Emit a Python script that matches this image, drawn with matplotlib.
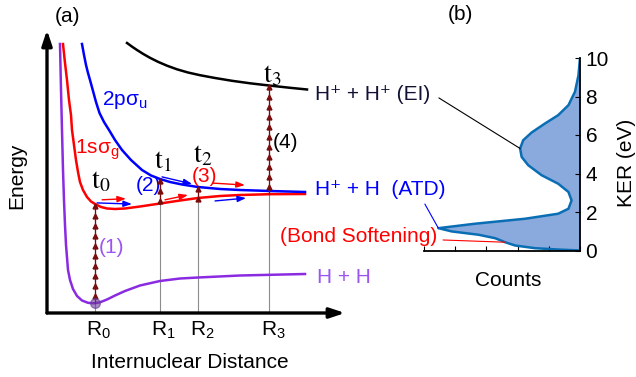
import numpy as np
import matplotlib
matplotlib.use('Agg')
import matplotlib.pyplot as plt
from matplotlib.patches import ConnectionPatch

plt.rcParams['font.family'] = ['Liberation Sans', 'DejaVu Sans']
plt.rcParams['mathtext.fontset'] = 'custom'
plt.rcParams['mathtext.rm'] = 'Liberation Sans'
plt.rcParams['mathtext.it'] = 'Liberation Sans:italic'
plt.rcParams['mathtext.bf'] = 'Liberation Sans:bold'

# ---------------- panel (a): schematic potential curves (arb. units) ----------------
hh_R = [0.436, 0.470, 0.503, 0.537, 0.570, 0.604, 0.638, 0.705, 0.772, 0.872, 1.007, 1.174,
        1.376, 1.577, 1.779, 2.013, 2.282, 2.617, 3.121, 3.792, 4.463, 5.067, 6.477, 8.658]
hh_E = [9.505, 7.880, 6.466, 5.053, 3.993, 3.110, 2.403, 1.519, 1.166, 0.848, 0.601, 0.442,
        0.360, 0.343, 0.378, 0.477, 0.618, 0.777, 0.972, 1.131, 1.219, 1.254, 1.325, 1.378]

sg_R = [0.537, 0.604, 0.671, 0.738, 0.805, 0.839, 0.906, 0.973, 1.040, 1.107, 1.208, 1.342, 1.477,
        1.611, 1.812, 2.013, 2.282, 2.617, 3.121, 3.792, 4.463, 5.067, 5.805, 6.477, 7.483, 8.658]
sg_E = [9.505, 8.834, 8.233, 7.527, 6.996, 6.466, 5.936, 5.406, 4.982, 4.629, 4.346, 4.099, 3.940,
        3.852, 3.746, 3.693, 3.675, 3.693, 3.763, 3.869, 3.975, 4.064, 4.134, 4.170, 4.198, 4.205]

su_R = [1.174, 1.242, 1.309, 1.376, 1.443, 1.544, 1.644, 1.762, 1.913, 2.081, 2.282, 2.517, 2.819,
        3.188, 3.490, 3.792, 4.128, 4.530, 5.067, 5.805, 6.477, 7.483, 8.658]
su_E = [9.505, 9.117, 8.763, 8.481, 8.233, 7.845, 7.456, 7.067, 6.749, 6.466, 6.113, 5.760, 5.406,
        5.053, 4.859, 4.735, 4.629, 4.541, 4.452, 4.382, 4.346, 4.311, 4.276]

ei_R = [2.685, 2.852, 3.020, 3.221, 3.456, 3.725, 4.027, 4.362, 4.732, 5.134, 5.638, 6.208,
        6.812, 7.483, 8.154, 8.725]
ei_E = [9.541, 9.413, 9.293, 9.159, 9.018, 8.876, 8.739, 8.611, 8.498, 8.403, 8.304, 8.205,
        8.117, 8.035, 7.958, 7.898]

R_pos = [1.61, 3.79, 5.07, 7.45]
R_labels = [r'R$_\mathrm{0}$', r'R$_\mathrm{1}$', r'R$_\mathrm{2}$', r'R$_\mathrm{3}$']
t_labels = [r'$\mathrm{t}_0$', r'$\mathrm{t}_1$', r'$\mathrm{t}_2$', r'$\mathrm{t}_3$']

# wave-packet motion arrows: (R_start, E_start, R_end, E_end, colour)
motion_arrows = [
    (1.85, 4.00, 2.65, 4.04, 'red'),
    (1.68, 3.89, 2.85, 3.85, 'blue'),
    (3.86, 4.81, 4.87, 4.56, 'blue'),
    (3.96, 4.00, 4.73, 4.17, 'red'),
    (5.57, 4.59, 6.64, 4.52, 'red'),
    (5.64, 3.96, 6.68, 4.06, 'blue'),
]

# ---------------- panel (b): KER distribution ----------------
ker = [0.0, 0.05, 0.12, 0.26, 0.43, 0.64, 0.82, 0.99, 1.16, 1.39, 1.65, 1.91, 2.17, 2.60,
       3.04, 3.47, 3.91, 4.43, 4.86, 5.30, 5.73, 6.13, 6.60, 7.03, 7.55, 8.25, 9.10, 10.0]
counts = [0.0, 0.70, 1.44, 2.08, 2.40, 2.72, 3.26, 4.11, 4.54, 3.37, 1.76, 0.70, 0.37, 0.27,
          0.37, 0.70, 1.23, 1.66, 1.87, 1.92, 1.82, 1.55, 1.12, 0.70, 0.37, 0.16, 0.05, 0.0]
ker_ticks = [0, 2, 4, 6, 8, 10]
count_ticks = [0, 1, 2, 3, 4, 5]

W, H = 636, 377
fx = lambda px: px / W
fy = lambda py: 1 - py / H

PURPLE = '#8a2be2'
PURPLE_T = '#9b55f0'
BLUE = '#0000ff'
RED = '#ff0000'
DRED = '#7a0c0c'
FS = 15

fig = plt.figure(figsize=(W / 100, H / 100), dpi=100)

# ---- panel (b) axes first (drawn beneath panel (a) texts) ----
axb = fig.add_axes([fx(424), fy(250.5), fx(580) - fx(424), fy(58) - fy(250.5)])
axb.patch.set_visible(False)
axb.fill_betweenx(ker, 0, counts, color='#8aa9dc', lw=0)
axb.plot(counts, ker, color='#0a6eb4', lw=1.8)
axb.set_xlim(5, 0)
axb.set_ylim(0, 10)
for s in ['left', 'top']:
    axb.spines[s].set_visible(False)
for s in ['right', 'bottom']:
    axb.spines[s].set_linewidth(1.3)
axb.yaxis.tick_right()
axb.set_yticks(ker_ticks)
axb.set_xticks(count_ticks)
axb.set_xticklabels([])
axb.tick_params(axis='both', direction='in', length=3.5, width=0.8, labelsize=FS, pad=4)

# ---- panel (a) ----
axa = fig.add_axes([fx(47), fy(313), fx(345) - fx(47), fy(30) - fy(313)])
axa.patch.set_visible(False)
axa.set_xlim(0, 10)
axa.set_ylim(0, 10)
axa.axis('off')

axa.annotate('', xy=(0, 1), xytext=(0, 0), xycoords='axes fraction',
             arrowprops=dict(arrowstyle='-|>,head_length=0.9,head_width=0.3', lw=2.4,
                             color='black', shrinkA=0, shrinkB=0))
axa.annotate('', xy=(1, 0), xytext=(0, 0), xycoords='axes fraction',
             arrowprops=dict(arrowstyle='-|>,head_length=0.9,head_width=0.3', lw=2.4,
                             color='black', shrinkA=0, shrinkB=0))

# grey guides and dark-red excitation chains
chain_bottoms = [np.interp(R_pos[0], hh_R, hh_E), np.interp(R_pos[1], sg_R, sg_E),
                 np.interp(R_pos[2], sg_R, sg_E), np.interp(R_pos[3], sg_R, sg_E)]
chain_tops = [np.interp(R_pos[0], sg_R, sg_E), np.interp(R_pos[1], su_R, su_E),
              np.interp(R_pos[2], su_R, su_E), np.interp(R_pos[3], ei_R, ei_E)]
for r, b, t in zip(R_pos, chain_bottoms, chain_tops):
    axa.plot([r, r], [0, t], color='#8c8c8c', lw=0.8, zorder=1)
    axa.plot([r, r], [b, t], color=DRED, lw=0.9, zorder=4)
    ys = np.arange(t, b, -0.353)
    axa.plot(np.full_like(ys, r), ys - 0.06, ls='none', marker='^', ms=3.5, color=DRED, zorder=4)

axa.plot(hh_R, hh_E, color=PURPLE, lw=1.8, zorder=3)
axa.plot(sg_R, sg_E, color=RED, lw=1.8, zorder=3)
axa.plot(su_R, su_E, color=BLUE, lw=1.8, zorder=3)
axa.plot(ei_R, ei_E, color='black', lw=1.8, zorder=3)
axa.plot([R_pos[0]], [chain_bottoms[0]], marker='o', ms=7, color='#6a3d9a', alpha=0.6, zorder=5)

for r0, e0, r1, e1, c in motion_arrows:
    axa.annotate('', xy=(r1, e1), xytext=(r0, e0),
                 arrowprops=dict(arrowstyle='-|>,head_length=0.5,head_width=0.18', lw=1.0,
                                 color=c, shrinkA=0, shrinkB=0), zorder=5)

for r, lab in zip(R_pos, R_labels):
    axa.text(r + 0.13, -0.60, lab, ha='center', va='center', fontsize=FS)

t_xy = [(1.81, 4.66), (3.89, 5.37), (5.24, 5.58), (7.55, 8.41)]
for (x, y), lab in zip(t_xy, t_labels):
    axa.text(x, y, lab, ha='center', va='center', fontsize=20, math_fontfamily='stix')

axa.text(2.62, 7.53, r'2pσ$_\mathrm{u}$', color=BLUE, fontsize=FS, ha='center', va='center')
axa.text(1.68, 5.76, r'1sσ$_\mathrm{g}$', color=RED, fontsize=FS, ha='center', va='center')
axa.text(2.18, 2.30, '(1)', color=PURPLE_T, fontsize=FS, ha='center', va='center')
axa.text(3.39, 4.52, '(2)', color=BLUE, fontsize=FS, ha='center', va='center')
axa.text(5.27, 4.84, '(3)', color=RED, fontsize=FS, ha='center', va='center')
axa.text(8.02, 6.01, '(4)', color='black', fontsize=FS, ha='center', va='center')

axa.text(8.99, 7.72, 'H⁺ + H⁺ (EI)', color='#111133', fontsize=FS, ha='left', va='center')
axa.text(8.99, 4.35, 'H⁺ + H  (ATD)', color=BLUE, fontsize=FS, ha='left', va='center')
axa.text(13.09, 2.69, '(Bond Softening)', color=RED, fontsize=FS, ha='right', va='center')
axa.text(9.06, 1.27, 'H + H', color=PURPLE_T, fontsize=FS, ha='left', va='center')

fig.text(fx(68), fy(17), '(a)', fontsize=FS, ha='center', va='center')
fig.text(fx(17), fy(176), 'Energy', fontsize=FS, ha='center', va='center', rotation=90)
fig.text(fx(190), fy(362), 'Internuclear Distance', fontsize=FS, ha='center', va='center')

fig.text(fx(508), fy(280), 'Counts', fontsize=FS, ha='center', va='center')
fig.text(fx(627), fy(163), 'KER (eV)', fontsize=FS, ha='center', va='center', rotation=90)
fig.text(fx(460), fy(15), '(b)', fontsize=FS, ha='center', va='center')

# leader lines from channel labels to KER features
i_ei = int(np.argmax([c if k > 3 else 0 for k, c in zip(ker, counts)]))
i_atd = int(np.argmax(counts))
i_bs = 4
for xyA, idx, col in [((13.15, 7.60), i_ei, 'black'),
                      ((12.68, 3.85), i_atd, BLUE),
                      ((13.29, 2.58), i_bs, RED)]:
    cp = ConnectionPatch(xyA=xyA, coordsA=axa.transData,
                         xyB=(counts[idx], ker[idx]), coordsB=axb.transData,
                         color=col, lw=0.8)
    fig.add_artist(cp)

fig.savefig('out.png', dpi=100)
